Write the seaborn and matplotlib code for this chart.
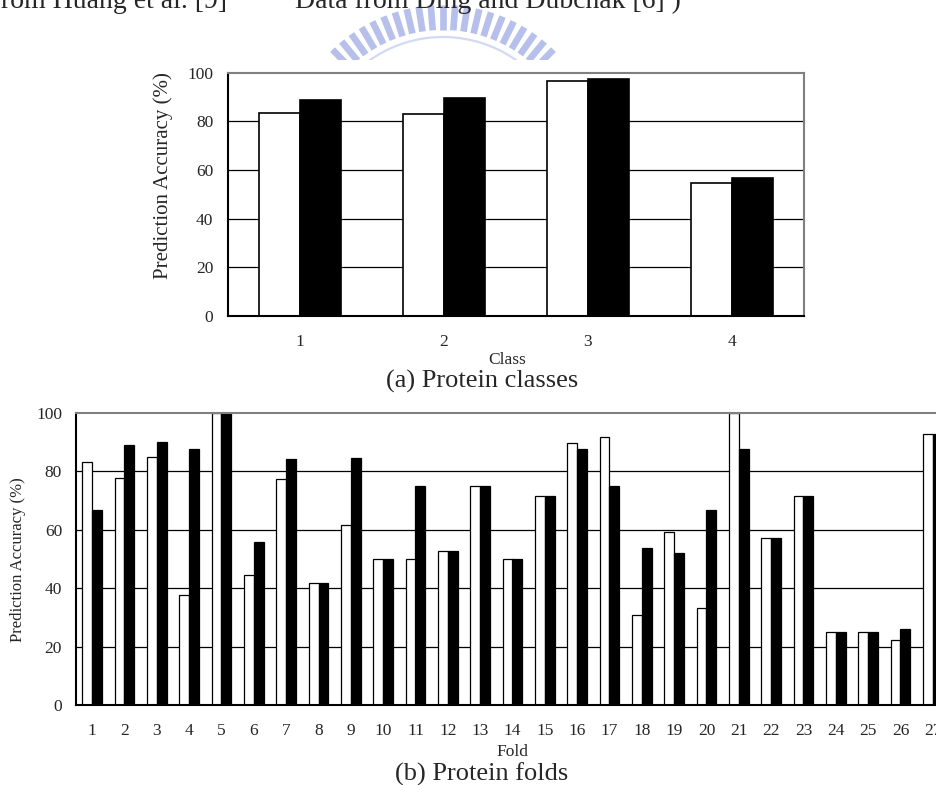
import numpy as np
import pandas as pd
import matplotlib
matplotlib.use("Agg")
import matplotlib.pyplot as plt
import seaborn as sns

# ---- data -------------------------------------------------------------
class_labels = ["1", "2", "3", "4"]
class_open = [83.6, 83.0, 96.6, 54.8]
class_filled = [88.6, 89.8, 97.3, 56.7]

fold_labels = [str(i) for i in range(1, 28)]
fold_open = [83.3, 77.8, 85.0, 37.5, 100.0, 44.4, 77.4, 41.7, 61.5, 50.0,
             50.0, 52.6, 75.0, 50.0, 71.4, 89.5, 91.7, 30.8, 59.1, 33.3,
             100.0, 57.1, 71.4, 25.0, 25.0, 22.2, 92.6]
fold_filled = [66.7, 88.9, 90.0, 87.5, 100.0, 55.6, 84.2, 41.7, 84.6, 50.0,
               75.0, 52.6, 75.0, 50.0, 71.4, 87.5, 75.0, 53.8, 51.9, 66.7,
               87.5, 57.1, 71.4, 25.0, 25.0, 25.9, 92.6]

y_ticks = [0, 20, 40, 60, 80, 100]
series_names = ["open", "filled"]
series_colors = {"open": "white", "filled": "black"}

# ---- style ------------------------------------------------------------
sns.set_style("white")
plt.rcParams["font.family"] = ["Liberation Serif", "DejaVu Serif"]

W, H = 936, 785
fig = plt.figure(figsize=(W / 100, H / 100), dpi=100)


def long_table(labels, a, b):
    return pd.DataFrame({
        "cat": labels * 2,
        "series": [series_names[0]] * len(labels) + [series_names[1]] * len(labels),
        "value": list(a) + list(b),
    })


def draw_panel(ax, labels, a, b, width, edge_lw, xpad, ylpad):
    n = len(labels)
    for v in y_ticks[1:-1]:
        ax.axhline(v, color="black", lw=0.9, zorder=0.5)
    sns.barplot(data=long_table(labels, a, b), x="cat", y="value",
                hue="series", order=labels, hue_order=series_names,
                palette=series_colors, saturation=1, width=width,
                edgecolor="black", linewidth=edge_lw, legend=False, ax=ax)
    ax.set_xlim(-0.5, n - 0.5)
    ax.set_ylim(0, 100)
    ax.set_yticks(y_ticks)
    ax.set_xlabel("")
    ax.set_ylabel("")
    ax.set_xticks(np.arange(0.5, n - 1, 1), minor=True)
    ax.tick_params(axis="y", length=0, pad=ylpad, labelsize=12.5)
    ax.tick_params(axis="x", which="major", length=0, pad=xpad, labelsize=12.5)
    ax.tick_params(axis="x", which="minor", direction="in", length=5,
                   width=1, color="black")
    for side in ("left", "bottom"):
        ax.spines[side].set_color("black")
        ax.spines[side].set_linewidth(1.5)
    for side in ("top", "right"):
        ax.spines[side].set_color("#808080")
        ax.spines[side].set_linewidth(1.5)
        ax.spines[side].set_visible(True)


# (a) classes
ax1 = fig.add_axes([228 / W, 1 - 316 / H, (804 - 228) / W, (316 - 72.7) / H])
draw_panel(ax1, class_labels, class_open, class_filled, 0.575, 1.2, 13, 10.5)

# (b) folds
ax2 = fig.add_axes([76 / W, 1 - 705 / H, (949 - 76) / W, (705 - 412.7) / H])
draw_panel(ax2, fold_labels, fold_open, fold_filled, 0.6, 0.9, 13, 10.0)

# axis titles and captions
fig.text(163 / W, 1 - 176 / H, "Prediction Accuracy (%)", rotation=90,
         ha="center", va="center", fontsize=15)
fig.text(18.5 / W, 1 - 560 / H, "Prediction Accuracy (%)", rotation=90,
         ha="center", va="center", fontsize=12)
fig.text(506.7 / W, 1 - 364.3 / H, "Class", ha="center", va="baseline",
         fontsize=12.5)
fig.text(482 / W, 1 - 387.7 / H, "(a) Protein classes", ha="center",
         va="baseline", fontsize=19)
fig.text(512.7 / W, 1 - 755.7 / H, "Fold", ha="center", va="baseline",
         fontsize=12.5)
fig.text(482 / W, 1 - 780.7 / H, "(b) Protein folds", ha="center",
         va="baseline", fontsize=19)

# source line above the panels
fig.text(227 / W, 1 - 8 / H, "(Data from Huang et al. [9]", ha="right",
         va="baseline", fontsize=20)
fig.text(295 / W, 1 - 8 / H, "Data from Ding and Dubchak [6] )", ha="left",
         va="baseline", fontsize=20)

# faint emblem behind the header
axw = fig.add_axes([0, 1 - 60 / H, 1, 60 / H], zorder=-1)
axw.set_xlim(0, W)
axw.set_ylim(60, 0)
axw.axis("off")
cx, cy = 443, 164
for ang in np.deg2rad(np.arange(-44, 44.1, 4.4)):
    r0, r1 = 134, 159
    axw.plot([cx + r0 * np.sin(ang), cx + r1 * np.sin(ang)],
             [cy - r0 * np.cos(ang), cy - r1 * np.cos(ang)],
             color="#b6c0ea", lw=4.8, solid_capstyle="butt")
arc = np.deg2rad(np.linspace(-46, 46, 120))
axw.plot(cx + 127 * np.sin(arc), cy - 127 * np.cos(arc), color="#d3d9f2", lw=1.6)

fig.savefig("out.png", dpi=100)
